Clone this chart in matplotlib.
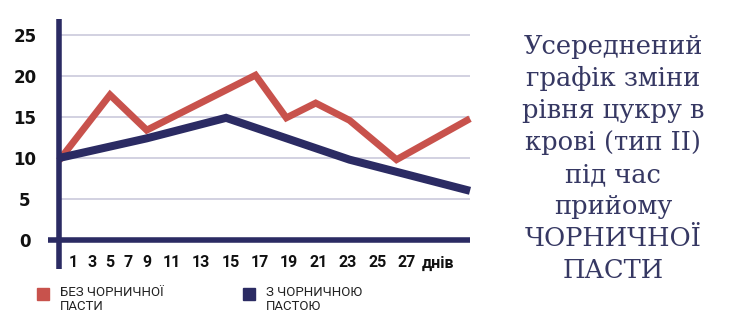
import numpy as np
import matplotlib
matplotlib.use("Agg")
import matplotlib.pyplot as plt
from matplotlib.patches import Rectangle

# days (x) and blood sugar values
red_days = [0, 5, 9, 16.7, 18.8, 20.8, 23.1, 26.3, 31.3]
red_vals = [9.7, 17.7, 13.4, 20.1, 14.9, 16.7, 14.6, 9.8, 14.8]
blue_days = [0, 9, 14.7, 23.1, 31.3]
blue_vals = [10.0, 12.4, 14.9, 9.8, 6.0]

series_names = ["БЕЗ ЧОРНИЧНОЇ\nПАСТИ", "З ЧОРНИЧНОЮ\nПАСТОЮ"]
y_ticks = [0, 5, 10, 15, 20, 25]
x_ticks = [1, 3, 5, 7, 9, 11, 13, 15, 17, 19, 21, 23, 25, 27]
x_unit = "днів"
title_lines = ["Усереднений", "графік зміни", "рівня цукру в", "крові (тип II)",
               "під час", "прийому", "ЧОРНИЧНОЇ", "ПАСТИ"]

RED = "#C8524C"
NAVY = "#2B2B63"
GRID = "#CBC9DB"

# the original axis is stretched unevenly (first days squeezed), piecewise map
knot_days = [-2, 0, 1, 9, 11, 27, 40]
knot_pos = [-28.6, 0, 14.3, 87.7, 112.7, 347.7, 538.7]

def fwd(d):
    return np.interp(d, knot_days, knot_pos)

def inv(p):
    return np.interp(p, knot_pos, knot_days)

fig = plt.figure(figsize=(7.5, 3.29), dpi=100)
H = 329.0
ax = fig.add_axes([48 / 750, 1 - 254.8 / H, (470 - 48) / 750, (254.8 - 18.6) / H])
ax.set_xscale("function", functions=(fwd, inv))
ax.set_xlim(-0.77, 31.3)
ax.set_ylim(-1.8, 27)
for s in ax.spines.values():
    s.set_visible(False)

ax.hlines(y_ticks[1:], 0, 31.3, color=GRID, lw=1.2, zorder=1)
ax.plot(red_days, red_vals, color=RED, lw=5, solid_joinstyle="miter",
        solid_capstyle="butt", zorder=2, clip_on=False)
ax.plot(blue_days, blue_vals, color=NAVY, lw=5.8, solid_joinstyle="miter",
        solid_capstyle="butt", zorder=3, clip_on=False)
ax.axhline(0, color=NAVY, lw=4, zorder=4)
ax.vlines(0, -3.5, 27, color=NAVY, lw=4, zorder=5, clip_on=False)

ax.set_yticks(y_ticks)
ax.set_yticklabels([str(v) for v in y_ticks], fontsize=12, fontweight="bold",
                   family="DejaVu Sans", color="#111111")
ax.tick_params(axis="y", length=0, pad=16.6)
plt.setp(ax.get_yticklabels(), ha="center")

ax.set_xticks(x_ticks)
ax.set_xticklabels([str(v) for v in x_ticks], fontsize=11.5, fontweight="bold",
                   family="Roboto", color="#111111")
ax.tick_params(axis="x", length=0, pad=0)
ax.minorticks_off()
ax.annotate(x_unit, xy=(27, 0), xycoords=("data", "axes fraction"),
            xytext=(22.8, -0.5), textcoords="offset points", ha="center", va="top",
            fontsize=11.5, fontweight="bold", family="Roboto", color="#111111")

# legend drawn by hand so the square sits on the first text line
for i, (name, col) in enumerate(zip(series_names, [RED, NAVY])):
    x0 = [37, 243][i]
    fig.add_artist(Rectangle((x0 / 750, 1 - 300 / H), 12 / 750, 12 / H,
                             transform=fig.transFigure, color=col))
    fig.text((x0 + 23) / 750, 1 - 286 / H, name, ha="left", va="top",
             fontsize=9.5, family="Roboto", color="#222222", linespacing=1.15)

fig.text(613 / 750, 1 - 34 / H, "\n".join(title_lines), ha="center", va="top",
         fontsize=18.5, family="DejaVu Serif", color="#363863", linespacing=1.35)

fig.savefig("out.png", dpi=100, facecolor="white")
